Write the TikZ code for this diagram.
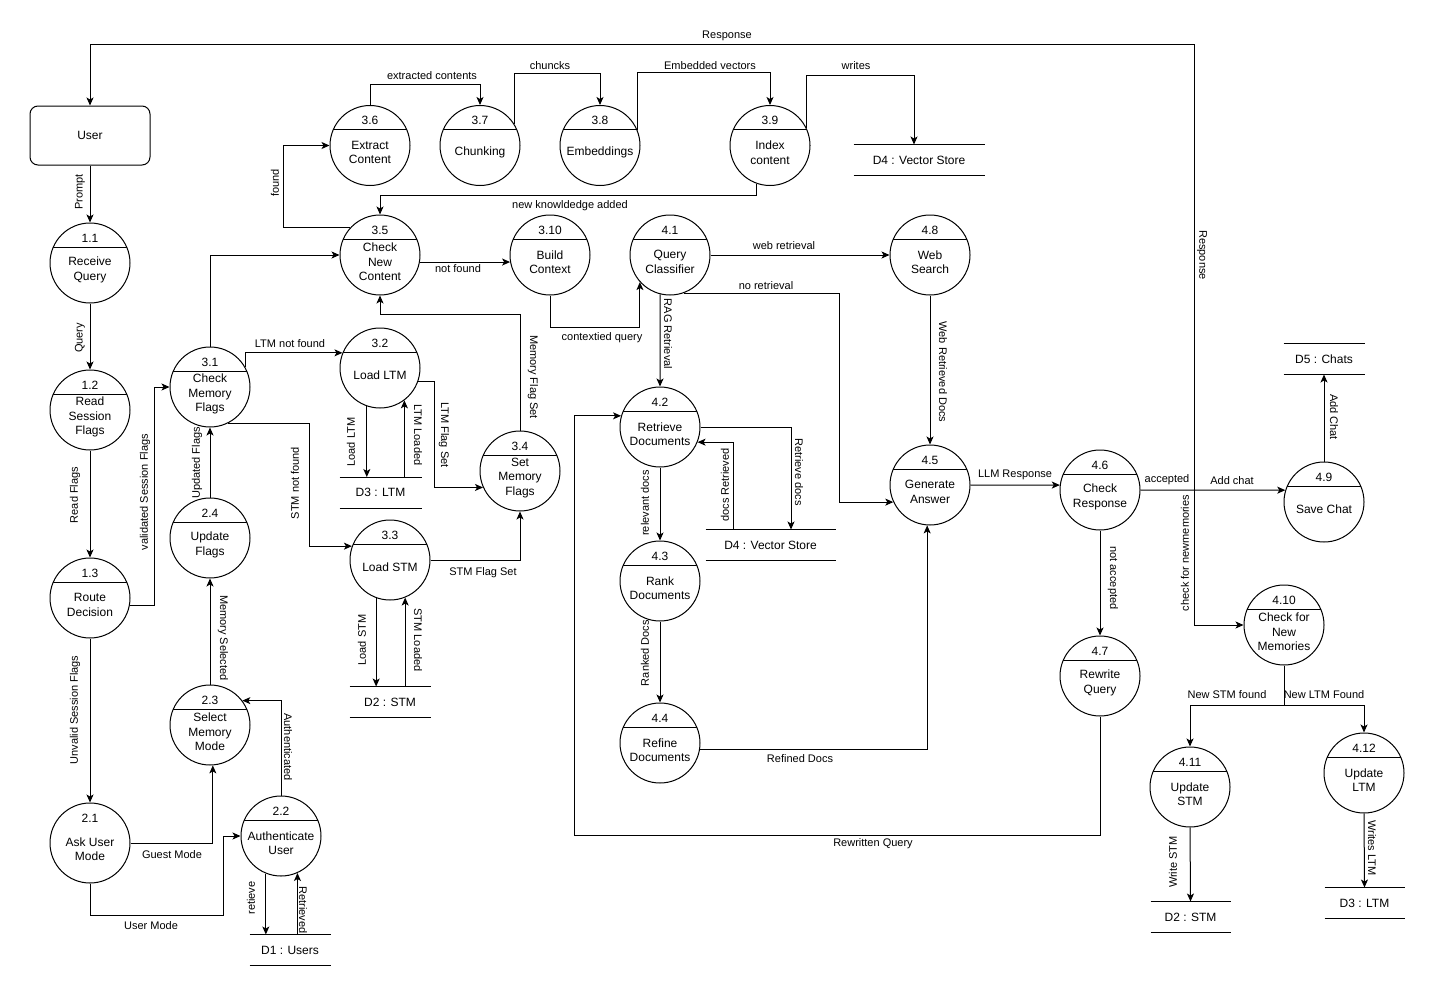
\documentclass[tikz,border=0pt]{standalone}
\usepackage{fontspec}
\setmainfont{Liberation Sans}
\usetikzlibrary{arrows.meta, calc}

% process bubble: name, centre, number, text
\newcommand{\dfdproc}[4]{%
  \node[proc] (#1) at (#2) {};
  \node[ptxt] (#1-no) at ([yshift=25pt]#1.center) {#3};
  \draw ([shift={(-36.7pt,16pt)}]#1.center) -- ([shift={(36.7pt,16pt)}]#1.center);
  \node[ptxt] (#1-tx) at ([yshift=-7pt]#1.center) {#4};
}
% data store: name, centre, width, text
\newcommand{\dfdstore}[4]{%
  \node[store, minimum width=#3] (#1) at (#2) {#4};
  \draw (#1.north west) -- (#1.north east) (#1.south west) -- (#1.south east);
}

\begin{document}
\begin{tikzpicture}[
    x=1pt, y=-1pt, line width=1pt,
    proc/.style={circle, draw, minimum size=80pt, inner sep=0pt},
    ptxt/.style={align=center, inner sep=0pt, font=\fontsize{12}{14.5}\selectfont},
    store/.style={minimum height=30pt, inner sep=0pt, font=\fontsize{12}{14}\selectfont},
    lbl/.style={inner sep=0pt, font=\fontsize{11}{13}\selectfont},
    flow/.style={-{Stealth[length=8pt, width=7pt, inset=2pt]}},
]
\useasboundingbox (0,0) rectangle (1447,998);

% External entity
\node[draw, rounded corners=8pt, minimum width=120pt, minimum height=59pt,
      font=\fontsize{12}{14}\selectfont] (user) at (90,135.5) {User};

% Level 1 - 2
\dfdproc{p11}{90,263}{1.1}{Receive\\Query}
\dfdproc{p12}{90,410}{1.2}{Read\\Session\\Flags}
\dfdproc{p13}{90,598}{1.3}{Route\\Decision}
\node[proc] (p21) at (90,843) {};
\node[ptxt] (p21-no) at ([yshift=25pt]p21.center) {2.1};
\node[ptxt] (p21-tx) at ([yshift=-6pt]p21.center) {Ask User\\Mode};
\dfdproc{p22}{281,836}{2.2}{Authenticate\\User}
\dfdproc{p23}{210,725}{2.3}{Select\\Memory\\Mode}
\dfdproc{p24}{210,538}{2.4}{Update\\Flags}

% Level 3
\dfdproc{p31}{210,387}{3.1}{Check\\Memory\\Flags}
\dfdproc{p32}{380,368}{3.2}{Load LTM}
\dfdproc{p33}{390,560}{3.3}{Load STM}
\dfdproc{p34}{520,471}{3.4}{Set\\Memory\\Flags}
\dfdproc{p35}{380,255}{3.5}{Check\\New\\Content}
\dfdproc{p36}{370,145.5}{3.6}{Extract\\Content}
\dfdproc{p37}{480,145.5}{3.7}{Chunking}
\dfdproc{p38}{600,145.5}{3.8}{Embeddings}
\dfdproc{p39}{770,145.5}{3.9}{Index\\content}
\dfdproc{p310}{550,255}{3.10}{Build\\Context}

% Level 4
\dfdproc{p41}{670,255}{4.1}{Query\\Classifier}
\dfdproc{p42}{660,427}{4.2}{Retrieve\\Documents}
\dfdproc{p43}{660,581}{4.3}{Rank\\Documents}
\dfdproc{p44}{660,743}{4.4}{Refine\\Documents}
\dfdproc{p45}{930,485}{4.5}{Generate\\Answer}
\dfdproc{p46}{1100,490}{4.6}{Check\\Response}
\dfdproc{p47}{1100,676}{4.7}{Rewrite\\Query}
\dfdproc{p48}{930,255}{4.8}{Web\\Search}
\dfdproc{p49}{1324,502}{4.9}{Save Chat}
\dfdproc{p410}{1284,625}{4.10}{Check for\\New\\Memories}
\dfdproc{p411}{1190,787}{4.11}{Update\\STM}
\dfdproc{p412}{1364,773}{4.12}{Update\\LTM}

% Data stores
\dfdstore{d1}{290,950}{80pt}{D1 : Users}
\dfdstore{d2a}{390,702}{80pt}{D2 : STM}
\dfdstore{d3a}{380.5,492.5}{81pt}{D3 : LTM}
\dfdstore{d4a}{919,160}{130pt}{D4 : Vector Store}
\dfdstore{d4b}{770.5,545}{129pt}{D4 : Vector Store}
\dfdstore{d5}{1324,359}{80pt}{D5 : Chats}
\dfdstore{d2b}{1190.5,917}{79pt}{D2 : STM}
\dfdstore{d3b}{1364.5,903}{79pt}{D3 : LTM}

\coordinate (jr) at (1194,490);
\coordinate (rtop) at (1194,45);

% Flows: session and memory
\draw[flow] (user.south) -- (p11.north) node[lbl, rotate=90] at (80,192) {Prompt};
\draw[flow] (p11.south) -- (p12.north) node[lbl, rotate=90] at (80,338) {Query};
\draw[flow] (p12.south) -- (p13.north) node[lbl, rotate=90] at (75,495) {Read Flags};
\draw[flow] (p13.-10) -- ++(25,0) |- (p31.west)
    node[lbl, rotate=90] at (145,492) {validated Session Flags};
\draw[flow] (p13.south) -- (p21.north) node[lbl, rotate=90] at (75,710) {Unvalid Session Flags};
\draw[flow] (p21.east) -| (p23.-86) node[lbl] at (172,855) {Guest Mode};
\draw[flow] (p21.south) -- ++(0,32) -| ([xshift=-17pt]p22.west) -- (p22.west)
    node[lbl] at (151,926) {User Mode};
\draw[flow] (p22.north) |- (p23.37) node[lbl, rotate=-90] at (288,747) {Authenticated};
\draw[flow] (p22.-112) -- (p22.-112 |- d1.north) node[lbl, rotate=90] at (251,898) {retieve};
\draw[flow] (p22.-66 |- d1.north) -- (p22.-66) node[lbl, rotate=-90] at (303,910) {Retrieved};
\draw[flow] (p23.north) -- (p24.south) node[lbl, rotate=-90] at (223,638) {Memory Selected};
\draw[flow] (p24.north) -- (p31.south) node[lbl, rotate=90] at (197,463) {Updated Flags};
\draw[flow] (p31.north) |- (p35.west);
\draw[flow] (p31.30) |- (p32.158) node[lbl] at (290,344) {LTM not found};
\draw[flow] (p31.-63) -| ([xshift=-42pt]p33.160) -- (p33.160)
    node[lbl, rotate=90] at (295,483) {STM not found};
\draw[flow] (p32.-109) -- (p32.-109 |- d3a.north) node[lbl, rotate=90] at (351,442) {Load LTM};
\draw[flow] (p32.-53 |- d3a.north) -- (p32.-53) node[lbl, rotate=-90] at (418,435) {LTM Loaded};
\draw[flow] (p32.-20) -- ++(16,0) |- (p34.-156) node[lbl, rotate=-90] at (444,435) {LTM Flag Set};
\draw[flow] (p33.east) -| (p34.south) node[lbl] at (483,573) {STM Flag Set};
\draw[flow] (p33.-110) -- (p33.-110 |- d2a.north) node[lbl, rotate=90] at (362,640) {Load STM};
\draw[flow] (p33.-68 |- d2a.north) -- (p33.-68) node[lbl, rotate=-90] at (418,640) {STM Loaded};
\draw[flow] (p34.north) -- ++(0,-116) -| (p35.south) node[lbl, rotate=-90] at (533,377) {Memory Flag Set};

% Flows: new content indexing
\draw[flow] (p35.138) -- ++(-66,0) |- (p36.west) node[lbl, rotate=90] at (275,183) {found};
\draw[flow] (p36.north) -- ++(0,-21) -| (p37.north) node[lbl] at (432,76) {extracted contents};
\draw[flow] (p37.32) -- ++(0,-51) -| (p38.north) node[lbl] at (550,66) {chuncks};
\draw[flow] (p38.22) -- ++(0,-57.5) -| (p39.north) node[lbl] at (710,66) {Embedded vectors};
\draw[flow] (p39.26) -- ++(0,-52) -| ([xshift=-5pt]d4a.north) node[lbl] at (856,66) {writes};
\draw[flow] (p39.-110) -- ++(0,12) -| (p35.north) node[lbl] at (570,206) {new knowldedge added};
\draw[flow] (p35.-10) -- (p310.190) node[lbl] at (458,269) {not found};
\draw[flow] (p310.south) -- ++(0,32) -| (p41.-138) node[lbl] at (602,338) {contextied query};

% Flows: retrieval and answer
\draw[flow] (p41.east) -- (p48.west) node[lbl] at (784,246) {web retrieval};
\draw[flow] (p41.-70) -| ([xshift=-53.7pt]p45.-155) -- (p45.-155) node[lbl] at (766,286) {no retrieval};
\draw[flow] (p41.-104) -- (p42.north) node[lbl, rotate=-90] at (668,334) {RAG Retrieval};
\draw[flow] (p48.south) -- (p45.north) node[lbl, rotate=-90] at (943,372) {Web Retrieved Docs};
\draw[flow] (p42.east) -| ([xshift=20.5pt]d4b.north) node[lbl, rotate=-90] at (799,472) {Retrieve docs};
\draw[flow] ([xshift=-37.5pt]d4b.north) |- (p42.-22) node[lbl, rotate=90] at (725,485) {docs Retrieved};
\draw[flow] (p42.south) -- (p43.north) node[lbl, rotate=90] at (645,503) {relevant docs};
\draw[flow] (p43.south) -- (p44.north) node[lbl, rotate=90] at (645,653) {Ranked Docs};
\draw[flow] (p44.-9) -| (p45.-94) node[lbl] at (800,759) {Refined Docs};
\draw[flow] (p45.east) -- (p46.173) node[lbl] at (1015,475) {LLM Response};
\draw[flow] (p46.east) -- (p49.163) node[lbl] at (1167,480) {accepted} node[lbl] at (1232,481) {Add chat};
\draw[flow] (jr) -- (rtop) -| (user.north)
    node[lbl] at (727,36) {Response}
    node[lbl, rotate=-90] at (1202,255) {Response};
\draw[flow] (jr) |- (p410.west) node[lbl, rotate=90] at (1185,553) {check for newmemories};
\draw[flow] (p49.north) -- (d5.south) node[lbl, rotate=-90] at (1334,417) {Add Chat};
\draw[flow] (p46.south) -- (p47.north) node[lbl, rotate=-90] at (1113,578) {not accepted};
\draw[flow] (p47.south) -- ++(0,119) -| ([xshift=-46.5pt]p42.164) -- (p42.164)
    node[lbl] at (873,844) {Rewritten Query};

% Flows: memory update
\draw[flow] (p410.south) -- ++(0,40) -| (p411.north) node[lbl] at (1227,695) {New STM found};
\draw[flow] (p410.south) -- ++(0,40) -| (p412.north) node[lbl] at (1324,695) {New LTM Found};
\draw[flow] (p411.south) -- (d2b.north) node[lbl, rotate=90] at (1173,862) {Write STM};
\draw[flow] (p412.south) -- (d3b.north) node[lbl, rotate=-90] at (1372,848) {Writes LTM};

\end{tikzpicture}
\end{document}
